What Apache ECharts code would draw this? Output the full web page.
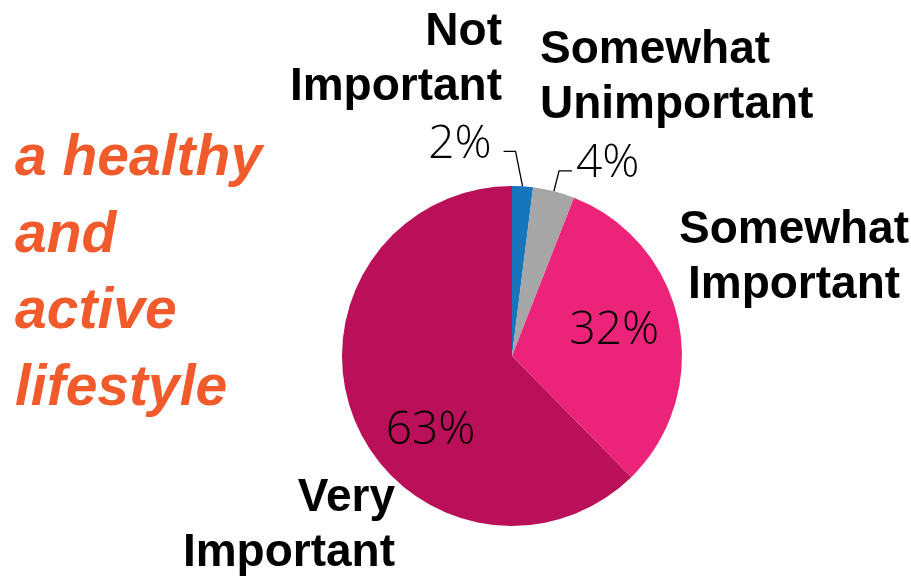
<!DOCTYPE html>
<html>
<head>
<meta charset="utf-8">
<style>
  html, body { margin: 0; padding: 0; background: #ffffff; }
  #chart { width: 911px; height: 580px; }
</style>
<script src="https://cdn.jsdelivr.net/npm/echarts@6/dist/echarts.min.js"></script>
</head>
<body>
<div id="chart"></div>
<script>
// Importance ratings, in slice order clockwise from 12 o'clock
const categories = ['Not Important', 'Somewhat Unimportant', 'Somewhat Important', 'Very Important'];
const percents = [2, 4, 32, 63];
const sliceColors = ['#1675BD', '#A6A6A6', '#EC2479', '#BA1059'];
const headline = ['a healthy', 'and', 'active', 'lifestyle'];

const chart = echarts.init(document.getElementById('chart'), null, { renderer: 'canvas' });

const nameFont = {
  fontFamily: '"Liberation Sans", Arial, sans-serif',
  fontWeight: 'bold',
  fontSize: 46,
  lineHeight: 55,
  fill: '#000000'
};

// Per-slice label nudges for the two inside labels
const insideOffsets = { 2: [16, -7], 3: [0, 42] };

const data = categories.map((name, i) => {
  const item = { name: name, value: percents[i], itemStyle: { color: sliceColors[i] } };
  if (i >= 2) {
    item.label = { position: 'inside', offset: insideOffsets[i] };
    item.labelLine = { show: false };
  } else {
    item.label = { position: 'outside' };
    item.labelLine = { show: true, length: 21, length2: 13 };
  }
  return item;
});

chart.setOption({
  animation: false,
  series: [{
    type: 'pie',
    center: [512, 356],
    radius: [0, 170],
    startAngle: 90,
    clockwise: true,
    avoidLabelOverlap: false,
    itemStyle: { borderWidth: 0 },
    label: {
      show: true,
      formatter: p => p.value + '%',
      fontFamily: '"Open Sans", Lato, sans-serif',
      fontWeight: 300,
      fontSize: 46,
      color: '#000000'
    },
    labelLine: {
      lineStyle: { color: '#000000', width: 1.3 }
    },
    labelLayout: function (params) {
      const pts = params.labelLinePoints;
      if (!pts) return {};
      if (params.dataIndex === 0) {
        // leader for the thin first slice bends back to the left
        const p0 = pts[0];
        const knee = [p0[0] - 7, p0[1] - 35];
        const end = [knee[0] - 12, knee[1]];
        return {
          x: end[0] - 12,
          y: end[1] - 6,
          align: 'right',
          verticalAlign: 'middle',
          labelLinePoints: [p0, knee, end]
        };
      }
      if (params.dataIndex === 1) {
        const end = pts[2];
        return {
          x: end[0] + 4,
          y: end[1] - 7,
          align: 'left',
          verticalAlign: 'middle',
          labelLinePoints: pts
        };
      }
      return {};
    },
    data: data
  }],
  graphic: [
    {
      type: 'text',
      left: 15,
      top: 121,
      style: {
        text: headline.join('\n'),
        fontFamily: '"Liberation Sans", Arial, sans-serif',
        fontWeight: 'bold',
        fontStyle: 'italic',
        fontSize: 57,
        lineHeight: 76.7,
        fill: '#F15A2B'
      }
    },
    {
      type: 'text',
      x: 502, y: 60,
      style: Object.assign({ text: 'Not\nImportant', align: 'right', verticalAlign: 'middle' }, nameFont)
    },
    {
      type: 'text',
      x: 540, y: 78,
      style: Object.assign({ text: 'Somewhat\nUnimportant', align: 'left', verticalAlign: 'middle' }, nameFont)
    },
    {
      type: 'text',
      x: 794, y: 258,
      style: Object.assign({ text: 'Somewhat\nImportant', align: 'center', verticalAlign: 'middle' }, nameFont)
    },
    {
      type: 'text',
      x: 395, y: 526,
      style: Object.assign({ text: 'Very\nImportant', align: 'right', verticalAlign: 'middle' }, nameFont)
    }
  ]
});
</script>
</body>
</html>
